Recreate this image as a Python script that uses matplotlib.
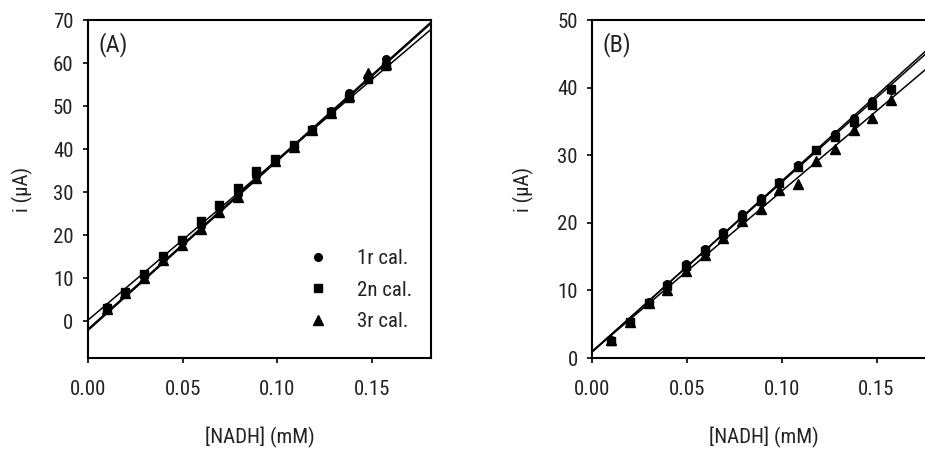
import matplotlib
matplotlib.use("Agg")
import matplotlib.pyplot as plt
import numpy as np

plt.rcParams["font.family"] = ["Roboto Condensed", "DejaVu Sans"]
plt.rcParams["font.weight"] = "normal"

# NADH concentrations (mM) after each addition
nadh = [0.0100, 0.0198, 0.0297, 0.0396, 0.0495, 0.0594, 0.0692, 0.0791,
        0.0889, 0.0987, 0.1085, 0.1183, 0.1281, 0.1379, 0.1478, 0.1575]

labels = ["1r cal.", "2n cal.", "3r cal."]

# panel A currents (uA)
a_cal1 = [3.3, 6.7, 10.5, 14.8, 18.7, 22.2, 26.4, 29.5,
          33.8, 37.6, 41.0, 44.6, 48.8, 53.0, 56.8, 61.0]
a_cal2 = [3.1, 6.8, 10.9, 15.3, 19.0, 23.4, 27.0, 31.0,
          34.9, 37.7, 40.9, 44.4, 48.6, 51.9, 56.2, 59.4]
a_cal3 = [2.9, 6.5, 10.1, 14.2, 17.8, 21.4, 25.4, 29.0,
          33.4, 37.2, 40.6, 44.4, 48.4, 52.4, 57.6, 59.9]
# linear fits (slope, intercept)
a_fits = [(394.0, -1.8), (373.0, 0.3), (394.0, -2.1)]

# panel B currents (uA)
b_cal1 = [2.6, 5.4, 8.3, 10.9, 13.9, 16.2, 18.6, 21.3,
          23.6, 26.1, 28.5, 30.8, 33.2, 35.5, 38.0, 39.6]
b_cal2 = [2.5, 5.4, 8.2, 10.6, 13.6, 15.8, 18.3, 20.8,
          23.3, 25.9, 28.2, 30.7, 32.7, 34.9, 37.5, 39.8]
b_cal3 = [2.6, 5.4, 8.1, 10.1, 12.9, 15.2, 17.7, 20.3,
          22.0, 24.8, 25.7, 29.2, 30.9, 33.8, 35.5, 38.1]
b_fits = [(253.0, 0.9), (250.0, 1.0), (237.0, 1.0)]

markers = ["o", "s", "^"]
msizes = [5.5, 5.5, 6.5]
xmax = 0.181
txt = "#222222"
fs = 15

fig = plt.figure(figsize=(9.25, 4.5), dpi=100)
ax_a = fig.add_axes([0.0951, 0.2044, 0.3708, 0.7511])
ax_b = fig.add_axes([0.6403, 0.2044, 0.3708, 0.7511])


def draw_panel(ax, series, fits, ylim, yticks, tag, ylab_x):
    xfit = np.array([0.0, xmax])
    for (slope, icpt) in fits:
        ax.plot(xfit, slope * xfit + icpt, color="black", lw=1.1,
                solid_capstyle="butt", zorder=2)
    for ys, m, ms, lab in zip(series, markers, msizes, labels):
        ax.plot(nadh, ys, linestyle="none", marker=m, ms=ms, color="black",
                label=lab, zorder=3)
    ax.set_xlim(0, xmax)
    ax.set_ylim(*ylim)
    ax.set_xticks([0.0, 0.05, 0.10, 0.15])
    ax.set_xticklabels(["0.00", "0.05", "0.10", "0.15"])
    ax.set_yticks(yticks)
    ax.tick_params(direction="out", length=3.5, width=1.2, labelsize=fs,
                   labelcolor=txt, color="black")
    ax.tick_params(axis="y", pad=7)
    ax.tick_params(axis="x", pad=12)
    for sp in ax.spines.values():
        sp.set_linewidth(1.5)
    ax.set_xlabel("[NADH] (mM)", fontsize=fs, color=txt, va="center")
    ax.xaxis.set_label_coords(0.5, -0.234)
    ax.set_ylabel("i (\u03bcA)", fontsize=fs, color=txt, va="center")
    ax.yaxis.set_label_coords(ylab_x, 0.5)
    ax.text(0.03, 0.965, tag, transform=ax.transAxes, fontsize=17.5,
            color=txt, ha="left", va="top")


draw_panel(ax_a, [a_cal1, a_cal2, a_cal3], a_fits, (-8.5, 70),
           range(0, 71, 10), "(A)", -0.192)
draw_panel(ax_b, [b_cal1, b_cal2, b_cal3], b_fits, (0, 50),
           range(0, 51, 10), "(B)", -0.2)

ax_a.legend(loc="center left", bbox_to_anchor=(0.615, 0.201), frameon=False,
            fontsize=fs, handlelength=1.0, handletextpad=1.4,
            borderaxespad=0, labelspacing=0.6, labelcolor=txt)

fig.savefig("out.png", dpi=100)
